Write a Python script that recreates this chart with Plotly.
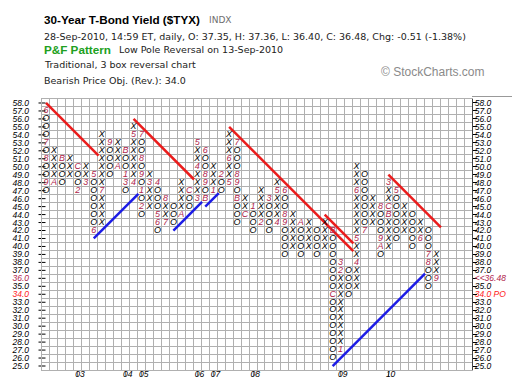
import plotly.graph_objects as go

# ---------------- data ----------------
col_type = "OXOXOXOXOXOXOXOXOXOXOXOXOXOXOXOXOXOXOXOXOXOXOXOXOX"
col_low = [47, 48, 48, 49, 47, 48, 42, 43, 49, 50, 47, 48, 44, 45, 42, 43, 43, 44, 45, 46,
           46, 47, 47, 48, 43, 44, 42, 43, 42, 43, 39, 40, 39, 40, 39, 40, 26, 27, 34, 35,
           42, 43, 39, 40, 41, 42, 40, 41, 35, 36]
col_high = [57, 52, 51, 51, 50, 50, 49, 54, 53, 53, 52, 55, 54, 49, 48, 46, 45, 48, 47, 53,
            52, 50, 49, 54, 53, 46, 45, 47, 46, 48, 47, 44, 43, 43, 42, 43, 42, 38, 37, 50,
            49, 46, 45, 48, 47, 45, 44, 43, 42, 39]

mark_col = [0, 0, 0, 0, 1, 2, 4, 4, 5, 6, 6, 7, 8, 9, 10, 10, 10, 11, 11,
            12, 12, 12, 12, 12, 13, 14, 14, 14, 15, 15, 17, 18, 19, 19, 19,
            20, 20, 20, 20, 21, 22, 23, 23, 24, 24, 24, 24, 25, 26, 27, 28, 29, 29,
            30, 30, 30, 32, 36, 36, 37, 37, 37, 39, 39, 39, 40, 42, 42, 42,
            43, 43, 43, 44, 47, 48, 48, 49]
mark_box = [57, 53, 51, 48, 48, 51, 50, 47, 48, 49, 42, 47, 53, 50, 52, 49, 48, 48, 54,
            54, 51, 49, 47, 45, 48, 48, 44, 43, 43, 46, 44, 47, 46, 50, 53,
            52, 49, 48, 46, 47, 49, 48, 51, 53, 49, 48, 46, 44, 45, 43, 46, 43, 47,
            47, 44, 43, 43, 42, 34, 27, 37, 38, 38, 41, 47, 42, 45, 41, 40,
            44, 45, 48, 47, 41, 39, 38, 36]
mark_lbl = ["6", "7", "8", "9", "A", "B", "C", "2", "3", "5", "6", "7", "9", "A", "B", "1", "3", "4", "5",
            "7", "8", "9", "1", "2", "3", "4", "5", "6", "7", "8", "A", "C", "3", "4", "5",
            "6", "8", "9", "B", "1", "2", "5", "6", "7", "8", "9", "B", "C", "1", "2", "3", "4", "5",
            "6", "8", "9", "A", "B", "C", "1", "2", "3", "4", "5", "6", "7", "8", "9", "A",
            "B", "C", "3", "5", "6", "7", "8", "9"]

year_cols = [4, 10, 12, 19, 21, 26, 37, 43]
year_lbls = ["03", "04", "05", "06", "07", "08", "09", "10"]

box_min, box_max = 25, 58
n_cols = 54
last_price = "36.48"
price_obj = 34

# trend lines: starting column and the column where each line stops
res_cols = [0, 11, 23, 35, 43]
res_end = [6.6, 18.6, 38.6, 38.6, 49.6]
sup_cols = [6, 16, 20, 36]
sup_end = [11.6, 19.6, 21.7, 47.6]

# ---------------- layout geometry ----------------
W, H = 520, 386
L, R, T, B = 34, 56, 91, 24
PW, PH = W - L - R, H - T - B


def pxx(x):
    return (x - L) / PW


def pyy(y):
    return (H - B - y) / PH


GRID = "#b0b0b0"
MAROON = "#b0244c"
RED = "#ff1a1a"
AXFONT = dict(family="Liberation Sans", size=8.5, color="black", style="italic")
GLYPH = dict(family="Liberation Sans", size=9, color="black", style="italic")

boxes = list(range(box_min, box_max + 1))
marks = {(c, b): t for c, b, t in zip(mark_col, mark_box, mark_lbl)}
xo_x, xo_y, xo_t = [], [], []
for c, (tp, lo, hi) in enumerate(zip(col_type, col_low, col_high)):
    for b in range(lo, hi + 1):
        if (c, b) not in marks:
            xo_x.append(c)
            xo_y.append(b)
            xo_t.append(tp)

fig = go.Figure()

# bearish resistance lines (red) and bullish support lines (blue), 45 degrees
for c, e in zip(res_cols, res_end):
    y0 = col_high[c] + 1
    fig.add_trace(go.Scatter(x=[c, e], y=[y0, y0 - (e - c)], mode="lines",
                             line=dict(color="#ea1c1c", width=2.5),
                             hoverinfo="skip", showlegend=False))
for c, e in zip(sup_cols, sup_end):
    y0 = col_low[c] - 1
    fig.add_trace(go.Scatter(x=[c, e], y=[y0, y0 + (e - c)], mode="lines",
                             line=dict(color="#1c1ce6", width=2.5),
                             hoverinfo="skip", showlegend=False))

fig.add_trace(go.Scatter(x=xo_x, y=xo_y, text=xo_t, mode="text",
                         textposition="middle center", textfont=GLYPH,
                         hoverinfo="skip", showlegend=False))
fig.add_trace(go.Scatter(x=mark_col, y=mark_box, text=mark_lbl, mode="text",
                         textposition="middle center",
                         textfont=dict(GLYPH, color=MAROON),
                         hoverinfo="skip", showlegend=False))

# left tick marks crossing the grid edge
fig.add_trace(go.Scatter(x=[-0.5] * len(boxes), y=boxes, mode="markers",
                         marker=dict(symbol="line-ew", size=5, line=dict(width=1, color="black")),
                         cliponaxis=False, hoverinfo="skip", showlegend=False))

# dummy traces so the label axes are drawn
fig.add_trace(go.Scatter(x=[0], y=[40], xaxis="x2", yaxis="y2", mode="markers",
                         marker=dict(opacity=0), hoverinfo="skip", showlegend=False))
fig.add_trace(go.Scatter(x=[0], y=[40], xaxis="x3", yaxis="y3", mode="markers",
                         marker=dict(opacity=0), hoverinfo="skip", showlegend=False))

left_txt, right_txt = [], []
for b in boxes:
    s = f"{b:.1f}"
    if b == int(float(last_price)):
        left_txt.append(f'<span style="color:{MAROON}">{s}</span>')
        right_txt.append(f'<span style="color:{MAROON}">&lt;&lt;{last_price}</span>')
    elif b == price_obj:
        left_txt.append(f'<span style="color:{RED}">{s}</span>')
        right_txt.append(f'<span style="color:{RED}">{s} PO</span>')
    else:
        left_txt.append(s)
        right_txt.append(s)

xr = [-0.5, n_cols - 0.5]
yr = [box_min - 0.5, box_max + 0.5]

fig.update_layout(
    width=W, height=H,
    margin=dict(l=L, r=R, t=T, b=B, autoexpand=False),
    paper_bgcolor="white", plot_bgcolor="white",
    showlegend=False,
    xaxis=dict(range=xr, tickmode="linear", tick0=-0.5, dtick=1, showgrid=True,
               gridcolor=GRID, gridwidth=1, showticklabels=False, ticks="",
               zeroline=False, showline=True, linecolor=GRID, mirror=True, fixedrange=True),
    yaxis=dict(range=yr, tickmode="linear", tick0=box_min - 0.5, dtick=1, showgrid=True,
               gridcolor=GRID, gridwidth=1, showticklabels=False, ticks="",
               zeroline=False, showline=True, linecolor=GRID, mirror=True, fixedrange=True),
    xaxis2=dict(overlaying="x", range=xr, tickmode="array", tickvals=year_cols,
                ticks="outside", ticklen=5, tickcolor="#888", tickwidth=1,
                showticklabels=False, showgrid=False, zeroline=False, showline=False),
    xaxis3=dict(overlaying="x", range=xr, tickmode="array",
                tickvals=[c + 0.28 for c in year_cols], ticktext=year_lbls,
                ticks="", showgrid=False, zeroline=False, showline=False,
                tickfont=AXFONT, ticklabelstandoff=-3),
    yaxis2=dict(overlaying="y", side="left", range=yr, tickmode="array",
                tickvals=boxes, ticktext=left_txt, ticks="", showgrid=False,
                zeroline=False, showline=False, tickfont=AXFONT, ticklabelstandoff=12),
    yaxis3=dict(overlaying="y", side="right", range=yr, tickmode="array",
                tickvals=boxes, ticktext=right_txt, ticks="outside", ticklen=4,
                tickcolor="black", showgrid=False, zeroline=False, showline=True,
                linecolor="#444", tickfont=AXFONT, ticklabelstandoff=-4),
)

fig.add_shape(type="line", xref="paper", yref="paper", x0=1.0, x1=pxx(W), y0=pyy(88.5), y1=pyy(88.5),
              line=dict(color="#999", width=1))

line2 = "28-Sep-2010, 14:59 ET, daily, O: 37.35, H: 37.36, L: 36.40, C: 36.48, Chg: -0.51 (-1.38%)"
headers = [
    (35, 11.7, "<b>30-Year T-Bond Yield ($TYX)</b>", "Liberation Sans", 11.7, "black"),
    (200, 12.0, "INDX", "DejaVu Sans", 9, "#6e6e6e"),
    (35, 28.5, line2, "DejaVu Sans", 9.5, "#222"),
    (35, 41.0, "<b>P&amp;F Pattern</b>", "Liberation Sans", 11.7, "#20a020"),
    (110, 41.7, "Low Pole Reversal on 13-Sep-2010", "DejaVu Sans", 9.5, "#222"),
    (35, 56.7, "Traditional, 3 box reversal chart", "DejaVu Sans", 9.5, "#222"),
    (35, 72.0, "Bearish Price Obj. (Rev.): 34.0", "DejaVu Sans", 9.5, "#222"),
    (372, 64.3, "© StockCharts.com", "Liberation Sans", 12, "#8a8a8a"),
]
for x, y, txt, fam, sz, colr in headers:
    fig.add_annotation(x=pxx(x), y=pyy(y), xref="paper", yref="paper", text=txt,
                       showarrow=False, xanchor="left", yanchor="middle", borderpad=0,
                       font=dict(family=fam, size=sz, color=colr))

fig.write_html("out.html")
